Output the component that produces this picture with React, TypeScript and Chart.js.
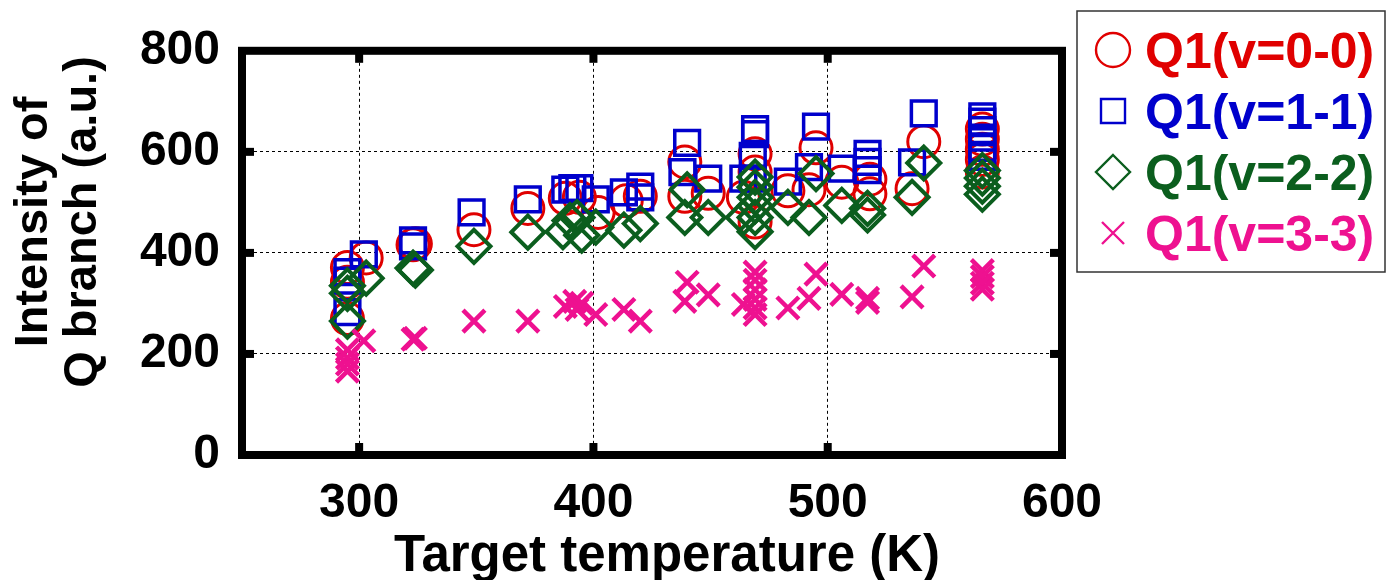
import React, { useEffect, useRef } from 'react';
import { Chart, registerables } from 'chart.js';

Chart.register(...registerables);

// ---------- data ----------
const seriesNames = ['Q1(v=0-0)', 'Q1(v=1-1)', 'Q1(v=2-2)', 'Q1(v=3-3)'];
const seriesColors = ['#E00000', '#0000CC', '#0B5E1E', '#EE1190'];

const q00Temp = [295, 295, 295, 303, 323, 324, 349, 372, 388, 394, 402, 414, 420, 439, 439, 449, 464, 469, 469, 469, 483, 492, 495, 506, 518, 518, 536, 541, 566, 566, 566, 566, 566];
const q00Int = [371, 342, 270, 390, 416, 418, 446, 488, 508, 510, 480, 503, 512, 580, 512, 518, 510, 596, 560, 461, 523, 525, 608, 540, 546, 517, 527, 620, 645, 625, 605, 585, 560];

const q11Temp = [295, 295, 295, 302, 323, 323, 348, 372, 388, 391, 394, 401, 413, 420, 420, 440, 438, 449, 464, 469, 469, 468, 468, 483, 492, 495, 506, 517, 517, 517, 536, 541, 566, 566, 566, 566, 566, 566];
const q11Int = [362, 345, 283, 397, 425, 413, 480, 506, 525, 528, 528, 506, 520, 531, 510, 618, 560, 547, 547, 645, 635, 592, 547, 541, 570, 650, 567, 596, 580, 564, 579, 676, 670, 660, 643, 628, 608, 590];

const q22Temp = [295, 295, 295, 303, 323, 324, 349, 372, 387, 390, 393, 395, 401, 413, 420, 440, 439, 449, 464, 469, 469, 469, 469, 469, 469, 483, 492, 495, 506, 517, 517, 536, 541, 566, 566, 566, 566];
const q22Int = [335, 320, 265, 350, 370, 366, 413, 441, 442, 464, 470, 435, 451, 445, 458, 525, 470, 470, 470, 550, 530, 510, 493, 470, 442, 490, 470, 557, 494, 488, 475, 510, 578, 563, 548, 532, 516];

const q33Temp = [295, 295, 295, 295, 302, 323, 324, 349, 372, 388, 392, 393, 395, 401, 413, 420, 440, 439, 449, 464, 469, 469, 469, 469, 469, 469, 483, 492, 495, 506, 517, 517, 536, 541, 566, 566, 566, 566];
const q33Int = [208, 192, 180, 166, 226, 229, 231, 265, 265, 294, 304, 288, 300, 278, 288, 265, 342, 304, 317, 298, 362, 346, 327, 308, 291, 278, 291, 310, 358, 318, 310, 302, 313, 374, 365, 353, 340, 328];

const xTicks = [300, 400, 500, 600];
const yTicks = [0, 200, 400, 600, 800];
const xTitle = 'Target temperature (K)';
const yTitleLines = ['Intensity of', 'Q branch (a.u.)'];

// ---------- styling ----------
const FONT = "'Liberation Sans', Arial, Helvetica, sans-serif";
const pointStyles = ['circle', 'rect', 'rectRot', 'crossRot'];
const pointRadii = [16, 17.5, 16.5, 15.5];
const pointWidths = [3, 3.5, 4, 4.5];

const toXY = (t: number[], v: number[]) => t.map((x, i) => ({ x, y: v[i] }));

const framePlugin = {
  id: 'frameTicks',
  afterDatasetsDraw(chart: any) {
    const { ctx, chartArea: a, scales } = chart;
    ctx.save();
    ctx.strokeStyle = '#000';
    ctx.lineWidth = 8;
    ctx.strokeRect(a.left, a.top, a.right - a.left, a.bottom - a.top);
    ctx.fillStyle = '#000';
    xTicks.forEach((v) => {
      const x = scales.x.getPixelForValue(v);
      if (x > a.left + 6 && x < a.right - 6) {
        ctx.fillRect(x - 4, a.top, 8, 12);
        ctx.fillRect(x - 4, a.bottom - 12, 8, 12);
      }
    });
    yTicks.forEach((v) => {
      const y = scales.y.getPixelForValue(v);
      if (y > a.top + 6 && y < a.bottom - 6) {
        ctx.fillRect(a.left, y - 4, 12, 8);
        ctx.fillRect(a.right - 12, y - 4, 12, 8);
      }
    });
    ctx.restore();
  },
};

const titlesPlugin = {
  id: 'axisTitles',
  afterDraw(chart: any) {
    const { ctx } = chart;
    ctx.save();
    ctx.fillStyle = '#000';
    ctx.textAlign = 'center';
    ctx.textBaseline = 'alphabetic';
    ctx.font = `bold 51px ${FONT}`;
    ctx.fillText(xTitle, 667, 571);
    ctx.font = `bold 47px ${FONT}`;
    const lineX = [47, 96];
    yTitleLines.forEach((line, i) => {
      ctx.save();
      ctx.translate(lineX[i], 222);
      ctx.rotate(-Math.PI / 2);
      ctx.fillText(line, 0, 0);
      ctx.restore();
    });
    ctx.restore();
  },
};

const legendPlugin = {
  id: 'boxLegend',
  afterDraw(chart: any) {
    const { ctx } = chart;
    ctx.save();
    ctx.strokeStyle = '#333';
    ctx.lineWidth = 1.5;
    ctx.strokeRect(1077, 11, 308, 261);
    ctx.font = `bold 50px ${FONT}`;
    ctx.textAlign = 'left';
    ctx.textBaseline = 'alphabetic';
    seriesNames.forEach((name, i) => {
      const cy = 50 + i * 61;
      const cx = 1113;
      const c = seriesColors[i];
      ctx.strokeStyle = c;
      ctx.lineWidth = 2.4;
      ctx.beginPath();
      if (i === 0) {
        ctx.arc(cx, cy, 17, 0, Math.PI * 2);
      } else if (i === 1) {
        ctx.rect(cx - 12, cy - 12, 24, 24);
      } else if (i === 2) {
        ctx.moveTo(cx, cy - 17);
        ctx.lineTo(cx + 17, cy);
        ctx.lineTo(cx, cy + 17);
        ctx.lineTo(cx - 17, cy);
        ctx.closePath();
      } else {
        ctx.moveTo(cx - 11, cy - 11);
        ctx.lineTo(cx + 11, cy + 11);
        ctx.moveTo(cx + 11, cy - 11);
        ctx.lineTo(cx - 11, cy + 11);
      }
      ctx.stroke();
      ctx.fillStyle = c;
      ctx.fillText(name, 1145, cy + 18);
    });
    ctx.restore();
  },
};

export default function App() {
  const ref = useRef<HTMLCanvasElement>(null);

  useEffect(() => {
    document.body.style.margin = '0';
    const seriesData = [
      toXY(q00Temp, q00Int),
      toXY(q11Temp, q11Int),
      toXY(q22Temp, q22Int),
      toXY(q33Temp, q33Int),
    ];
    const datasets = seriesNames.map((name, i) => ({
      label: name,
      data: seriesData[i],
      pointStyle: pointStyles[i] as any,
      pointRadius: pointRadii[i],
      pointBorderWidth: pointWidths[i],
      borderColor: seriesColors[i],
      backgroundColor: 'rgba(0,0,0,0)',
      pointBackgroundColor: 'rgba(0,0,0,0)',
      showLine: false,
      order: 4 - i,
    }));

    const axisTickFont = { family: FONT, size: 48, weight: 'bold' as const };

    const chart = new Chart(ref.current as HTMLCanvasElement, {
      type: 'scatter',
      data: { datasets },
      options: {
        responsive: false,
        animation: false,
        events: [],
        layout: { padding: { top: 38, right: 325, left: 0, bottom: 0 } },
        plugins: {
          legend: { display: false },
          tooltip: { enabled: false },
          title: { display: false },
        },
        scales: {
          x: {
            type: 'linear',
            min: 250,
            max: 600,
            afterBuildTicks: (s: any) => {
              s.ticks = xTicks.map((v) => ({ value: v }));
            },
            afterFit: (s: any) => {
              s.height = 125;
            },
            grid: { color: '#000', lineWidth: 1, drawTicks: false },
            border: { display: false, dash: [3, 3] },
            ticks: { color: '#000', font: axisTickFont, padding: 20, maxRotation: 0 },
          },
          y: {
            type: 'linear',
            min: 0,
            max: 800,
            afterBuildTicks: (s: any) => {
              s.ticks = yTicks.map((v) => ({ value: v }));
            },
            afterFit: (s: any) => {
              s.width = 242;
            },
            grid: { color: '#000', lineWidth: 1, drawTicks: false },
            border: { display: false, dash: [3, 3] },
            ticks: { color: '#000', font: axisTickFont, padding: 22 },
          },
        },
      },
      plugins: [framePlugin, titlesPlugin, legendPlugin],
    });
    return () => chart.destroy();
  }, []);

  return (
    <div style={{ width: 1387, height: 580, background: '#fff' }}>
      <canvas ref={ref} width={1387} height={580} style={{ display: 'block' }} />
    </div>
  );
}
